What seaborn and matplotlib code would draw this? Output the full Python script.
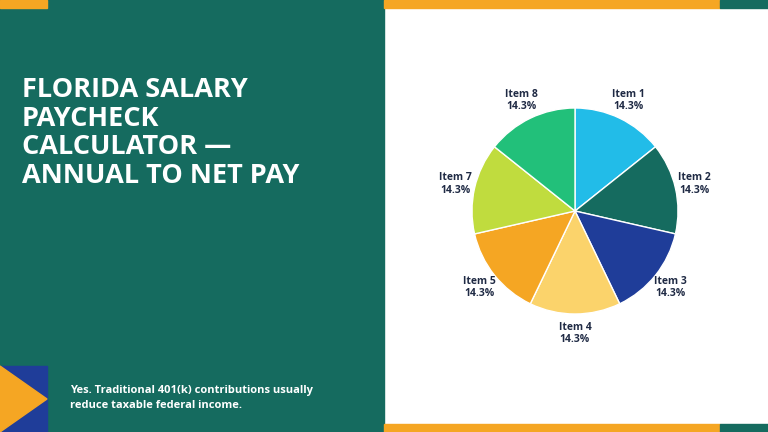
import matplotlib
matplotlib.use("Agg")
import matplotlib.pyplot as plt
import matplotlib.patches as mpatches
import seaborn as sns

sns.set_style("white")
plt.rcParams['font.family'] = ['Open Sans', 'DejaVu Sans']

labels = ["Item 1", "Item 2", "Item 3", "Item 4", "Item 5", "Item 6", "Item 7", "Item 8"]
values = [1, 1, 1, 1, 1, 0, 1, 1]
colors = ["#22bce8", "#156b5f", "#1f3d99", "#fbd36b", "#f5a623", "#e05a2b", "#c0dc3e", "#22c07a"]
title = "FLORIDA SALARY\nPAYCHECK\nCALCULATOR —\nANNUAL TO NET PAY"
note = "Yes. Traditional 401(k) contributions usually\nreduce taxable federal income."

W, H = 768, 432
fig = plt.figure(figsize=(7.68, 4.32), dpi=100)
bg = fig.add_axes([0, 0, 1, 1])
bg.set_xlim(0, W); bg.set_ylim(H, 0); bg.axis("off")
teal = "#156b5f"; orange = "#f5a623"; blue = "#1f3d99"
bg.add_patch(mpatches.Rectangle((0, 0), 384, H, color=teal))
bg.add_patch(mpatches.Rectangle((0, 0), 47, 8, color=orange))
bg.add_patch(mpatches.Rectangle((384, 0), 336, 8, color=orange))
bg.add_patch(mpatches.Rectangle((720, 0), 48, 8, color=teal))
bg.add_patch(mpatches.Rectangle((384, 424), 336, 8, color=orange))
bg.add_patch(mpatches.Rectangle((720, 424), 48, 8, color=teal))
bg.add_patch(mpatches.Rectangle((0, 366), 47, 66, color=blue))
bg.add_patch(mpatches.Polygon([(0, 366), (47, 399), (0, 432)], color=orange))
bg.text(22, 133, title, color="white", fontsize=19.5, fontweight="bold", va="center",
        ha="left", linespacing=1.12)
bg.text(70, 398, note, color="white", fontsize=8, fontweight="bold", va="center",
        ha="left", linespacing=1.6)

cx, cy, r = 575, 211, 103
ax = fig.add_axes([(cx - r) / W, (H - cy - r) / H, 2 * r / W, 2 * r / H])
shown = [(l, v, c) for l, v, c in zip(labels, values, colors) if v > 0]
total = sum(values)
wedges, texts = ax.pie([s[1] for s in shown], colors=[s[2] for s in shown],
                       startangle=90, counterclock=False,
                       labels=[f"{s[0]}\n{s[1] / total * 100:.1f}%" for s in shown],
                       labeldistance=1.19,
                       wedgeprops=dict(edgecolor="white", linewidth=1),
                       textprops=dict(color="#1f2a44", fontsize=7.5, fontweight="bold",
                                      ha="center", va="center"))
for t in texts:
    t.set_ha("center")
    t.set_clip_on(False)
ax.set_xlim(-1, 1); ax.set_ylim(-1, 1)
ax.set_aspect("equal")
ax.axis("off")
fig.savefig("out.png", dpi=100)
